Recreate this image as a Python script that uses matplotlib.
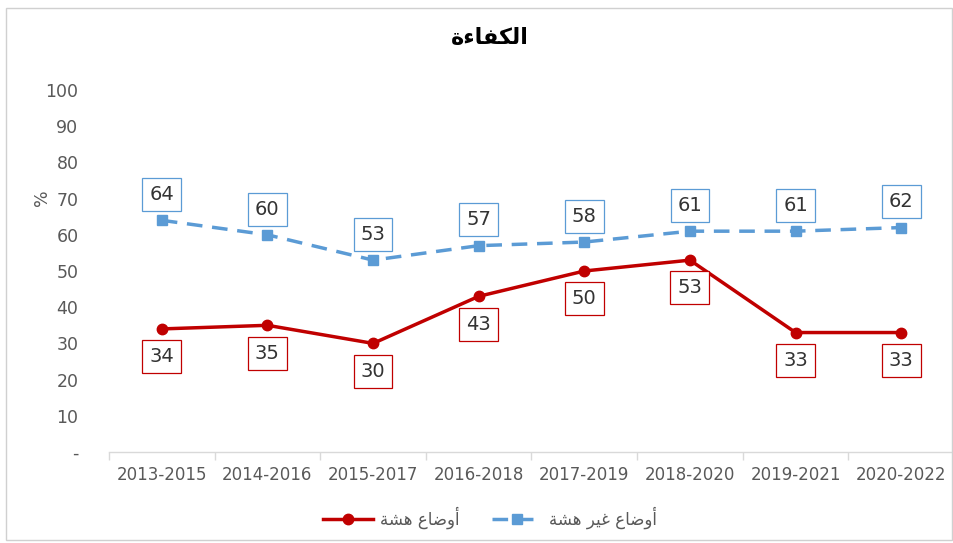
import matplotlib
matplotlib.use("Agg")
import matplotlib.pyplot as plt
from matplotlib.patches import Rectangle
import numpy as np

plt.rcParams['font.family'] = ['DejaVu Sans']

categories = ["2013-2015", "2014-2016", "2015-2017", "2016-2018",
              "2017-2019", "2018-2020", "2019-2021", "2020-2022"]
fragile = [34, 35, 30, 43, 50, 53, 33, 33]
non_fragile = [64, 60, 53, 57, 58, 61, 61, 62]
y_ticks = [0, 10, 20, 30, 40, 50, 60, 70, 80, 90, 100]
y_tick_labels = ["-", "10", "20", "30", "40", "50", "60", "70", "80", "90", "100"]

# Arabic text in presentation forms, visual (left-to-right) order
title_txt = "\uFE93\uFE80\uFE8E\uFED4\uFEDC\uFEDF\uFE8D"          # الكفاءة
lbl_fragile = "\uFE94\uFEB8\uFEEB \uFEC9\uFE8E\uFEBF\uFEED\uFE83"  # أوضاع هشة
lbl_nonfragile = "\uFE94\uFEB8\uFEEB \uFEAE\uFEF4\uFECF \uFEC9\uFE8E\uFEBF\uFEED\uFE83"  # أوضاع غير هشة

red = "#C00000"
blue = "#5B9BD5"
gray = "#595959"

W, H = 954, 543
fig = plt.figure(figsize=(W / 100, H / 100), dpi=100)
fig.patch.set_facecolor("white")
fig.add_artist(Rectangle((6 / W, 1 - 540 / H), (952 - 6) / W, (540 - 8) / H,
                         transform=fig.transFigure, fill=False,
                         edgecolor="#D0D0D0", linewidth=1))

ax = fig.add_axes([109 / W, 1 - 452 / H, (954 - 109) / W, (452 - 90) / H])
x = np.arange(len(categories))

ax.plot(x, fragile, color=red, lw=2.5, marker="o", ms=7.5, label=lbl_fragile, zorder=3)
ax.plot(x, non_fragile, color=blue, lw=2.5, ls=(0, (4.5, 2.8)), marker="s", ms=6.5,
        label=lbl_nonfragile, zorder=3)

for xi, v in zip(x, fragile):
    ax.annotate(f"{v}", (xi, v), xytext=(0, -20), textcoords="offset points",
                ha="center", va="center", fontsize=14, color="#333333",
                bbox=dict(boxstyle="square,pad=0.36", fc="white", ec=red, lw=0.9))
for xi, v in zip(x, non_fragile):
    ax.annotate(f"{v}", (xi, v), xytext=(0, 18.5), textcoords="offset points",
                ha="center", va="center", fontsize=14, color="#333333",
                bbox=dict(boxstyle="square,pad=0.36", fc="white", ec=blue, lw=0.9))

ax.set_xlim(-0.5, len(categories) - 0.5)
ax.set_ylim(0, 100)
ax.set_yticks(y_ticks)
ax.set_yticklabels(y_tick_labels)
ax.set_xticks(x)
ax.set_xticklabels(categories)
ax.set_xticks(np.arange(-0.5, len(categories), 1), minor=True)
ax.tick_params(axis="x", which="major", length=0, labelsize=12, labelcolor=gray, pad=10)
ax.tick_params(axis="x", which="minor", length=6, color="#D9D9D9", width=1)
ax.tick_params(axis="y", length=0, labelsize=12.5, labelcolor=gray, pad=22)
for s in ["top", "right", "left"]:
    ax.spines[s].set_visible(False)
ax.spines["bottom"].set_color("#D9D9D9")
ax.spines["bottom"].set_linewidth(1)
ax.patch.set_alpha(0)

fig.text(42 / W, 1 - 198 / H, "%", rotation=90, ha="center", va="center",
         fontsize=12.5, color=gray)
fig.text(490 / W, 1 - 38 / H, title_txt, ha="center", va="center",
         fontsize=16, fontweight="bold", color="black")

leg = fig.legend(loc="center", bbox_to_anchor=(490 / W, 1 - 518 / H), ncol=2,
                 frameon=False, fontsize=12, columnspacing=2.0,
                 handlelength=3.0, handletextpad=0.4, labelcolor=gray)

fig.savefig("out.png", dpi=100, facecolor="white")
